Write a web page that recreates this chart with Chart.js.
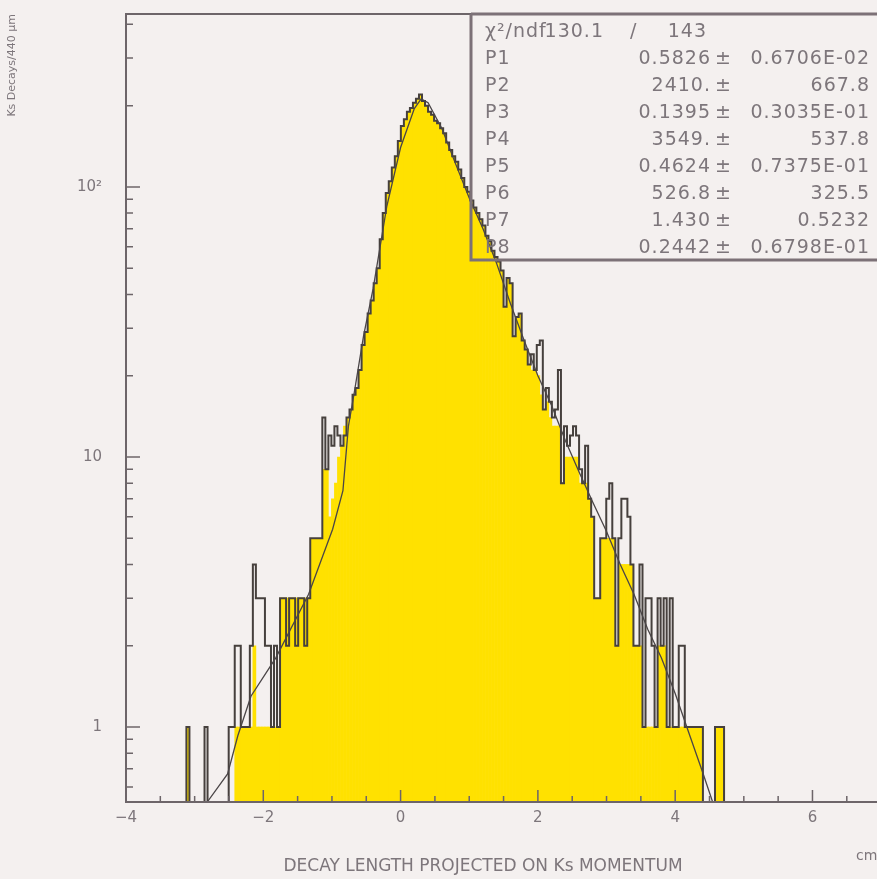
<!DOCTYPE html>
<html>
<head>
<meta charset="utf-8">
<title>Ks decay length</title>
<script src="https://cdn.jsdelivr.net/npm/chart.js@4.4.1/dist/chart.umd.min.js"></script>
<style>
  html, body { margin: 0; padding: 0; background: #f4f0ef; }
  canvas { display: block; }
</style>
</head>
<body>
<canvas id="chart" width="877" height="879"></canvas>
<script>
// histogram: 440 um bins starting at -4 cm
const binStart = -4.0;
const binWidth = 0.044;
// outlined histogram
const counts = [
    0, 0, 0, 0, 0, 0, 0, 0, 0, 0, 0, 0, 0, 0, 0, 0, 0, 0, 0, 0,
    1, 0, 0, 0, 0, 0, 1, 0, 0, 0, 0, 0, 0, 0, 1, 1, 2, 2, 1, 1,
    1, 2, 4, 3, 3, 3, 2, 2, 1, 2, 1, 3, 3, 2, 3, 3, 2, 3, 3, 2,
    3, 5, 5, 5, 5, 14, 9, 12, 11, 13, 12, 11, 12, 14, 15, 17, 18, 21, 26, 29,
    34, 38, 44, 50, 64, 80, 95, 105, 118, 130, 148, 168, 178, 190, 196, 205, 212, 220, 208, 200,
    190, 185, 176, 172, 165, 158, 146, 137, 130, 124, 116, 108, 100, 96, 89, 84, 80, 76, 72, 66,
    63, 58, 55, 53, 49, 36, 46, 44, 28, 33, 34, 27, 25, 22, 24, 21, 26, 27, 15, 18,
    16, 14, 15, 21, 8, 13, 11, 12, 13, 12, 9, 8, 11, 7, 6, 3, 3, 5, 5, 7,
    8, 5, 2, 5, 7, 7, 6, 4, 2, 2, 4, 1, 3, 3, 2, 1, 3, 2, 3, 1,
    3, 1, 1, 2, 2, 1, 1, 1, 1, 1, 1, 0, 0, 0, 0, 1, 1, 1
];
// yellow filled histogram (sits lower than the outline in the tails)
const fillCounts = [
    0, 0, 0, 0, 0, 0, 0, 0, 0, 0, 0, 0, 0, 0, 0, 0, 0, 0, 0, 0,
    1, 0, 0, 0, 0, 0, 0, 0, 0, 0, 0, 0, 0, 0, 0, 0, 1, 1, 1, 1,
    1, 1, 2, 1, 1, 1, 1, 1, 1, 1, 1, 3, 3, 3, 3, 3, 3, 3, 3, 3,
    3, 5, 5, 5, 5, 9, 9, 6, 7, 8, 10, 11, 13, 14, 15, 17, 18, 21, 26, 29,
    34, 38, 44, 50, 64, 80, 95, 105, 118, 130, 148, 168, 178, 190, 196, 205, 212, 220, 208, 200,
    190, 185, 176, 172, 165, 158, 146, 137, 130, 124, 116, 108, 100, 96, 89, 84, 80, 76, 72, 66,
    63, 58, 55, 53, 49, 36, 46, 44, 28, 33, 34, 27, 25, 22, 21, 21, 20, 17, 15, 16,
    14, 13, 13, 13, 8, 10, 10, 10, 10, 10, 8, 8, 8, 7, 6, 3, 3, 5, 5, 5,
    5, 5, 2, 4, 4, 4, 4, 4, 2, 2, 2, 1, 1, 1, 1, 1, 2, 2, 2, 1,
    1, 1, 1, 1, 1, 1, 1, 1, 1, 1, 1, 0, 0, 0, 0, 1, 1, 1
];

// fit curve
const fitX = [-2.95, -2.81, -2.52, -2.37, -2.18, -1.82, -1.34, -0.99, -0.84, -0.76, -0.68, -0.54, -0.4, -0.2,
    0.0, 0.2, 0.3, 0.4, 0.6, 0.8, 1.0, 1.2, 1.4, 1.6, 1.8, 2.0, 2.2, 2.4, 2.6, 2.8, 3.0, 3.2, 3.4, 3.6,
    3.8, 4.0, 4.2, 4.4, 4.6, 4.7];
const fitY = [0.4, 0.53, 0.67, 0.93, 1.3, 1.8, 3.1, 5.4, 7.5, 13, 17, 28, 42, 85,
    140, 195, 212, 205, 165, 122, 91, 70, 52, 37, 27, 20, 15.5, 11.5, 8.8, 6.8, 5.3, 4.0, 3.1, 2.3,
    1.8, 1.33, 0.95, 0.68, 0.48, 0.4];

const xLabelTicks = [-4, -2, 0, 2, 4, 6];
const xLabelText = ['−4', '−2', '0', '2', '4', '6'];
const yLabelTicks = [1, 10, 100];
const yLabelText = ['1', '10', '10²'];

const chiText = ['χ²/ndf', '130.1', '/', '143'];
const statNames = ['P1', 'P2', 'P3', 'P4', 'P5', 'P6', 'P7', 'P8'];
const statValues = ['0.5826', '2410.', '0.1395', '3549.', '0.4624', '526.8', '1.430', '0.2442'];
const statErrors = ['0.6706E-02', '667.8', '0.3035E-01', '537.8', '0.7375E-01', '325.5', '0.5232', '0.6798E-01'];

const bg = '#f4f0ef';
const grey = '#7d767b';
const frameColor = '#6d6569';

const bars = fillCounts.map((c, i) => ({ x: binStart + binWidth * (i + 0.5), y: c > 0 ? c : null }));
const outline = counts.map((c, i) => ({ x: binStart + binWidth * i, y: c > 0 ? c : 0.1 }));
outline.push({ x: binStart + binWidth * counts.length, y: 0.1 });
const fit = fitX.map((x, i) => ({ x: x, y: fitY[i] }));

const decorations = {
    id: 'decorations',
    beforeDraw(chart) {
        const ctx = chart.ctx;
        ctx.save();
        ctx.fillStyle = bg;
        ctx.fillRect(0, 0, chart.width, chart.height);
        ctx.restore();
    },
    afterDatasetsDraw(chart) {
        const { ctx, chartArea: a, scales: { x, y } } = chart;
        ctx.save();

        // frame
        ctx.strokeStyle = frameColor;
        ctx.lineWidth = 2;
        ctx.beginPath();
        ctx.moveTo(chart.width, a.top);
        ctx.lineTo(a.left, a.top);
        ctx.lineTo(a.left, a.bottom);
        ctx.lineTo(chart.width, a.bottom);
        ctx.stroke();

        // inward ticks
        ctx.lineWidth = 1.5;
        ctx.beginPath();
        for (let e = -1; e <= 2; e++) {
            for (let m = 1; m <= 9; m++) {
                const v = m * Math.pow(10, e);
                if (v < y.min || v > y.max) continue;
                const py = y.getPixelForValue(v);
                ctx.moveTo(a.left, py);
                ctx.lineTo(a.left + (m === 1 ? 14 : 7), py);
            }
        }
        for (let v = -4; v <= x.max; v += 0.5) {
            const px = x.getPixelForValue(v);
            const major = Math.abs(v / 2 - Math.round(v / 2)) < 1e-9;
            ctx.moveTo(px, a.bottom);
            ctx.lineTo(px, a.bottom - (major ? 12 : 6));
        }
        ctx.stroke();

        // tick labels
        ctx.fillStyle = grey;
        ctx.font = '15px "DejaVu Sans"';
        ctx.textBaseline = 'top';
        ctx.textAlign = 'center';
        xLabelTicks.forEach((v, i) => ctx.fillText(xLabelText[i], x.getPixelForValue(v), a.bottom + 9));
        ctx.textBaseline = 'middle';
        ctx.textAlign = 'right';
        yLabelTicks.forEach((v, i) => ctx.fillText(yLabelText[i], a.left - 24, y.getPixelForValue(v)));

        // stats box
        ctx.strokeStyle = '#7c7177';
        ctx.lineWidth = 3;
        ctx.beginPath();
        ctx.moveTo(471, a.top);
        ctx.lineTo(471, 260);
        ctx.lineTo(chart.width, 260);
        ctx.moveTo(471, a.top);
        ctx.lineTo(chart.width, a.top);
        ctx.stroke();

        ctx.font = '19px "DejaVu Sans"';
        ctx.letterSpacing = '1px';
        ctx.textAlign = 'left';
        ctx.fillText(chiText[0], 485, 32);
        ctx.textAlign = 'right';
        ctx.fillText(chiText[1], 604, 32);
        ctx.textAlign = 'left';
        ctx.fillText(chiText[2], 630, 32);
        ctx.textAlign = 'right';
        ctx.fillText(chiText[3], 707, 32);
        statNames.forEach((name, i) => {
            const ty = 59 + 27 * i;
            ctx.textAlign = 'left';
            ctx.fillText(name, 485, ty);
            ctx.textAlign = 'right';
            ctx.fillText(statValues[i], 711, ty);
            ctx.textAlign = 'left';
            ctx.fillText('±', 715, ty);
            ctx.textAlign = 'right';
            ctx.fillText(statErrors[i], 870, ty);
        });

        // axis titles
        ctx.letterSpacing = '0px';
        ctx.textAlign = 'center';
        ctx.font = '17px "DejaVu Sans"';
        ctx.fillText('DECAY LENGTH PROJECTED ON Ks MOMENTUM', 483, 867);
        ctx.textAlign = 'left';
        ctx.font = '14px "DejaVu Sans"';
        ctx.fillText('cm', 856, 856);
        ctx.restore();
    }
};

const ctx = document.getElementById('chart').getContext('2d');
new Chart(ctx, {
    type: 'bar',
    data: {
        datasets: [{
            type: 'line',
            label: 'fit',
            data: fit,
            borderColor: '#4a4547',
            borderWidth: 1.3,
            pointRadius: 0,
            fill: false,
            order: 0
        }, {
            type: 'line',
            label: 'outline',
            data: outline,
            stepped: true,
            borderColor: '#46403d',
            borderWidth: 2,
            pointRadius: 0,
            fill: false,
            order: 1
        }, {
            label: 'Ks decays',
            data: bars,
            backgroundColor: '#ffe100',
            borderWidth: 0,
            barPercentage: 1,
            categoryPercentage: 1,
            order: 2
        }]
    },
    options: {
        responsive: false,
        animation: false,
        layout: { padding: { top: 14, right: 0, bottom: 0, left: 0 } },
        plugins: {
            legend: { display: false },
            tooltip: { enabled: false }
        },
        scales: {
            x: {
                type: 'linear',
                min: -4,
                max: 6.94,
                offset: false,
                grid: { display: false, drawTicks: false },
                border: { display: false },
                ticks: { display: false, stepSize: 0.5 },
                afterFit: s => { s.height = 77; }
            },
            y: {
                type: 'logarithmic',
                min: 0.5275,
                max: 437,
                grid: { display: false, drawTicks: false },
                border: { display: false },
                ticks: { display: false },
                title: {
                    display: true,
                    text: 'Ks Decays/440 µm',
                    align: 'end',
                    color: grey,
                    font: { family: 'DejaVu Sans', size: 11 },
                    padding: { top: 6, bottom: 0 }
                },
                afterFit: s => { s.width = 126; }
            }
        }
    },
    plugins: [decorations]
});
</script>
</body>
</html>
